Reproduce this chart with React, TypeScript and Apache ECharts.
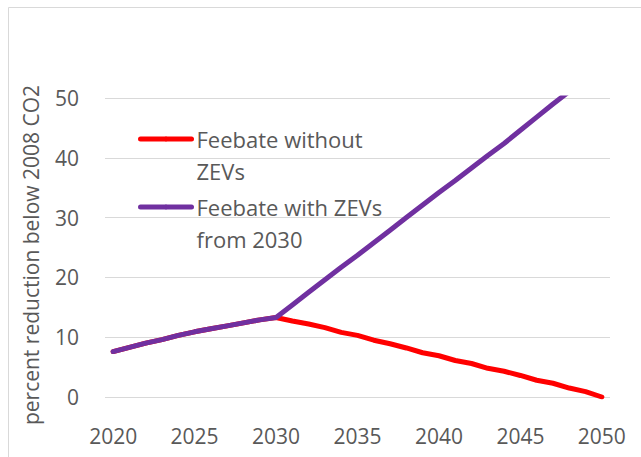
import React, { useEffect, useRef } from "react";
import * as echarts from "echarts";

const years = [
  "2020", "2021", "2022", "2023", "2024", "2025", "2026", "2027", "2028", "2029",
  "2030", "2031", "2032", "2033", "2034", "2035", "2036", "2037", "2038", "2039",
  "2040", "2041", "2042", "2043", "2044", "2045", "2046", "2047", "2048", "2049", "2050",
];

const feebateWithoutZEVs = [
  7.6, 8.3, 9.0, 9.6, 10.3, 10.9, 11.4, 11.9, 12.4, 12.9,
  13.3, 12.7, 12.2, 11.6, 10.8, 10.3, 9.5, 8.9, 8.2, 7.4,
  6.9, 6.1, 5.6, 4.8, 4.3, 3.6, 2.8, 2.3, 1.5, 0.9, 0.0,
];

const feebateWithZEVs = [
  7.6, 8.3, 9.0, 9.6, 10.3, 10.9, 11.4, 11.9, 12.4, 12.9,
  13.3, 15.4, 17.5, 19.6, 21.7, 23.7, 25.8, 27.9, 30.0, 32.1,
  34.2, 36.2, 38.3, 40.4, 42.4, 44.6, 46.8, 49.0, 51.1, 53.2, 55.3,
];

const seriesNames = ["Feebate without ZEVs", "Feebate with ZEVs from 2030"];
const legendLines: Record<string, string[]> = {
  "Feebate without ZEVs": ["Feebate without", "ZEVs"],
  "Feebate with ZEVs from 2030": ["Feebate with ZEVs", "from 2030"],
};

const yTicks = { min: 0, max: 50, interval: 10 };
const yAxisTitle = "percent reduction below 2008 CO2";

const FONT = "'Open Sans', 'Noto Sans', sans-serif";
const TEXT = "#595959";
const LH = 32;

export default function App() {
  const ref = useRef<HTMLDivElement>(null);
  useEffect(() => {
    if (!ref.current) return;
    const chart = echarts.init(ref.current, undefined, { renderer: "svg" });
    chart.setOption({
      animation: false,
      backgroundColor: "#ffffff",
      textStyle: { fontFamily: FONT },
      grid: { left: 105, right: 31, top: 98, bottom: 60 },
      graphic: [
        {
          type: "rect",
          shape: { x: 8.5, y: 7.5, width: 700, height: 500 },
          style: { fill: "none", stroke: "#d9d9d9", lineWidth: 1 },
          silent: true,
        },
      ],
      legend: {
        orient: "vertical",
        left: 138,
        top: 91,
        padding: 0,
        itemWidth: 51,
        itemHeight: 6,
        itemGap: -28,
        data: seriesNames,
        // leading blank line keeps the first text line level with the icon
        formatter: (name: string) => "\n" + (legendLines[name] || [name]).join("\n"),
        textStyle: {
          fontFamily: FONT,
          fontSize: 22,
          color: TEXT,
          lineHeight: LH,
        },
        lineStyle: { width: 5, cap: "round" },
      },
      xAxis: {
        type: "category",
        data: years,
        boundaryGap: true,
        axisLine: { show: false },
        axisTick: { show: false },
        splitLine: { show: false },
        axisLabel: {
          interval: 4,
          margin: 28,
          fontSize: 21,
          color: TEXT,
          fontFamily: FONT,
        },
      },
      yAxis: {
        type: "value",
        min: yTicks.min,
        max: yTicks.max,
        interval: yTicks.interval,
        axisLine: { show: false },
        axisTick: { show: false },
        splitLine: { lineStyle: { color: "#d9d9d9", width: 1 } },
        axisLabel: { margin: 26, fontSize: 21, color: TEXT, fontFamily: FONT },
        name: yAxisTitle,
        nameLocation: "middle",
        nameGap: 64,
        nameRotate: 90,
        nameTextStyle: {
          fontSize: 21,
          color: TEXT,
          fontFamily: FONT,
          padding: [0, 15, 0, 0],
        },
      },
      series: [
        {
          name: seriesNames[0],
          type: "line",
          data: feebateWithoutZEVs,
          symbol: "none",
          clip: true,
          lineStyle: { color: "#ff0000", width: 5, cap: "round", join: "round" },
          itemStyle: { color: "#ff0000" },
        },
        {
          name: seriesNames[1],
          type: "line",
          data: feebateWithZEVs,
          symbol: "none",
          clip: true,
          lineStyle: { color: "#7030a0", width: 5, cap: "round", join: "round" },
          itemStyle: { color: "#7030a0" },
        },
      ],
    });
    return () => chart.dispose();
  }, []);
  return (
    <div
      ref={ref}
      style={{ position: "fixed", left: 0, top: 0, width: 641, height: 457 }}
    />
  );
}
